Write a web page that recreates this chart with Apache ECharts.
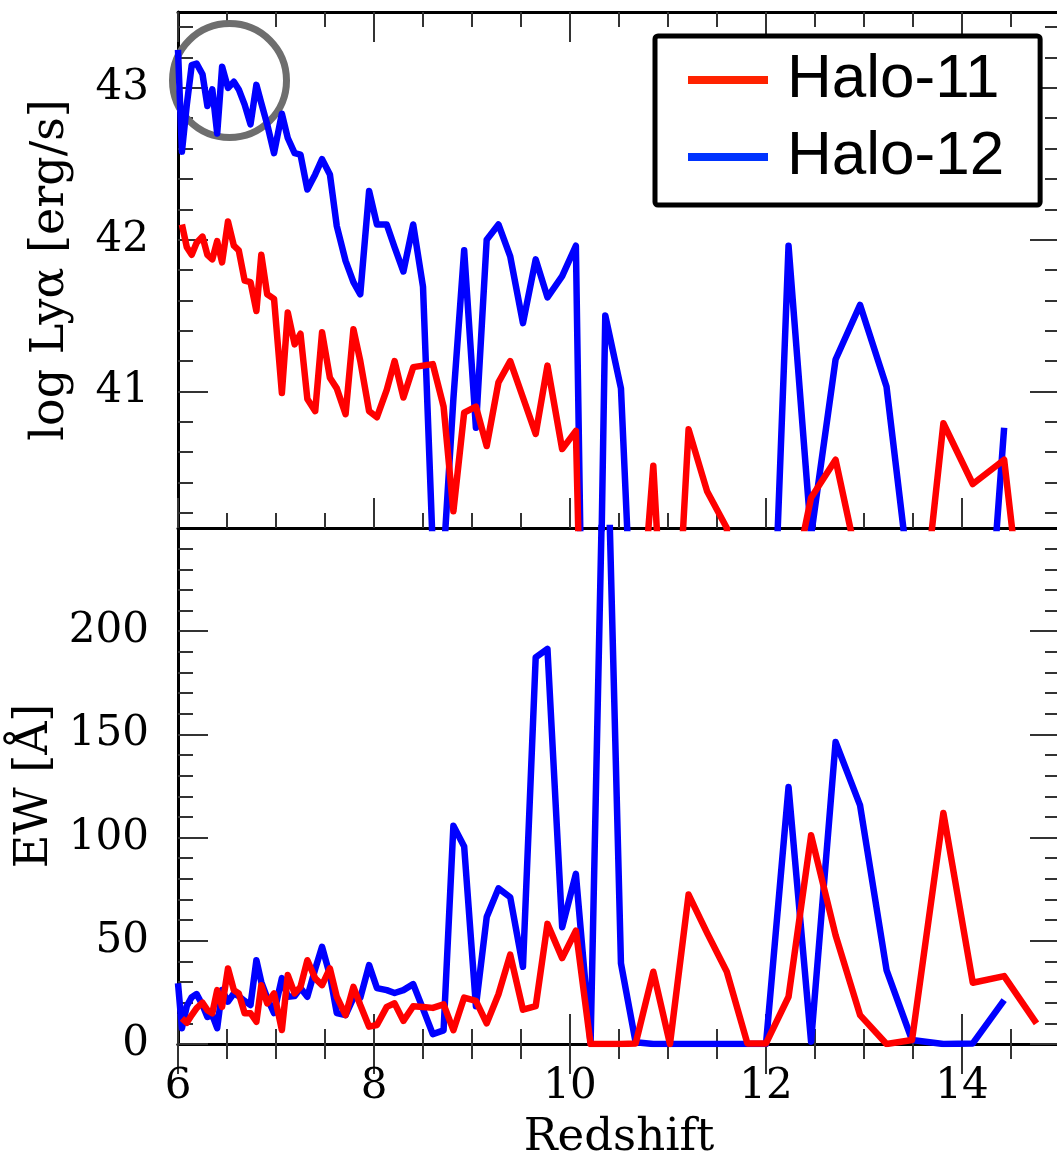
<!DOCTYPE html>
<html>
<head>
<meta charset="utf-8">
<script src="https://cdn.jsdelivr.net/npm/echarts@6/dist/echarts.min.js"></script>
<style>html,body{margin:0;padding:0;background:#fff}#c{width:1057px;height:1161px}</style>
</head>
<body>
<div id="c"></div>
<script>
// ---- data ----
const redshift = [6.00,6.04,6.09,6.14,6.19,6.25,6.30,6.35,6.40,6.45,6.51,6.57,6.62,6.68,6.74,6.80,6.85,6.91,6.98,7.06,
  7.12,7.19,7.25,7.32,7.40,7.47,7.55,7.62,7.71,7.79,7.86,7.95,8.03,8.13,8.21,8.30,8.40,8.50,8.60,8.71,
  8.81,8.92,9.04,9.15,9.27,9.39,9.52,9.65,9.77,9.92,10.06,10.21,10.36,10.52,10.67,10.85,11.02,11.21,11.40,11.60,
  11.81,12.00,12.23,12.46,12.71,12.96,13.23,13.49,13.81,14.11,14.43,14.76];
const lyaHalo11 = [null,42.10,41.95,41.90,41.98,42.02,41.90,41.87,41.99,41.85,42.12,41.96,41.93,41.73,41.72,41.53,41.90,41.64,41.61,40.99,
  41.52,41.31,41.38,40.95,40.87,41.39,41.09,41.02,40.85,41.41,41.20,40.87,40.83,41.01,41.20,40.96,41.16,41.17,41.18,40.90,
  40.21,40.86,40.90,40.64,41.06,41.20,40.96,40.72,41.17,40.62,40.74,36.7,36.8,37.5,39.03,40.51,38.53,40.75,40.34,40.10,
  37.0,37.0,39.58,40.30,40.55,39.8,37.5,38.88,40.79,40.39,40.55,38.7];
const lyaHalo12 = [43.25,42.58,42.89,43.15,43.16,43.09,42.88,42.99,42.70,43.14,43.00,43.04,42.99,42.89,42.76,43.02,42.90,42.76,42.57,42.83,
  42.67,42.57,42.56,42.33,42.43,42.53,42.43,42.09,41.86,41.72,41.64,42.32,42.10,42.10,41.95,41.79,42.10,41.69,39.96,39.90,
  40.95,41.93,40.76,42.00,42.10,41.89,41.45,41.87,41.62,41.76,41.96,35.7,41.50,41.02,38.84,37.0,37.0,37.0,37.0,37.0,
  37.0,38.07,41.96,40.05,41.21,41.57,41.03,39.62,38.5,37.96,40.76,null];
const ewHalo11 = [null,12.4,10.3,14.0,17.4,20.0,16.4,14.9,26.1,18.0,36.6,26.1,24.5,14.9,14.9,10.8,28.5,19.7,24.5,6.8,
  33.4,24.5,27.7,40.6,31.8,28.5,36.6,22.9,14.0,27.7,18.9,8.4,9.2,18.0,19.7,11.2,18.3,17.9,17.5,19.2,
  6.7,22.5,20.9,10.0,24.1,43.3,16.6,18.3,58.2,41.6,54.9,0,0,0,0.3,35.0,0,72.4,53.7,35.0,
  0.3,0.3,22.9,101.1,52.7,14.0,0,1.9,111.9,29.7,32.9,10.0];
const ewHalo12 = [29.4,7.6,18.4,22.7,24.2,18.9,13.1,14.0,7.7,26.1,20.5,24.5,23.2,20.8,18.9,40.6,30.0,22.3,15.0,31.9,
  22.9,23.2,27.1,22.9,36.3,47.1,33.4,15.0,14.0,22.3,22.3,38.2,27.1,26.1,24.7,26.1,29.0,17.0,4.8,6.6,
  105.7,95.7,18.3,61.5,75.4,71.1,37.4,187.3,191.4,56.6,82.4,0.5,337,39.1,0.8,0,0,0,0,0,
  0,0,124.5,1.1,146.3,115.6,35.8,1.9,0,0.3,21.3,null];

const xMajorTicks = [6,8,10,12,14];
const xMinorTicks = [6.5,7,7.5,8.5,9,9.5,10.5,11,11.5,12.5,13,13.5,14.5];
const lyaMajorTicks = [41,42,43];
const lyaMinorTicks = [40.2,40.4,40.6,40.8,41.2,41.4,41.6,41.8,42.2,42.4,42.6,42.8,43.2,43.4];
const ewMajorTicks = [0,50,100,150,200];
const ewMinorTicks = [10,20,30,40,60,70,80,90,110,120,130,140,160,170,180,190,210,220,230,240];

const seriesNames = ['Halo-11','Halo-12'];
const seriesColors = ['#ff0000','#0000ff'];

// ---- chart ----
const SERIF = 'DejaVu Serif';
const tickStyle = {color:'#333', width:2};
const frame = {show:true, lineStyle:{color:'#000', width:3}};

function xAxesFor(grid, withLabels) {
  const base = {type:'value', gridIndex:grid, min:6, max:15, splitLine:{show:false}};
  const lab = {show:withLabels, customValues:xMajorTicks, margin:22, fontFamily:SERIF, fontSize:42, color:'#000'};
  return [
    Object.assign({}, base, {position:'bottom', axisLine:frame,
      axisTick:{show:true, inside:true, length:30, customValues:xMajorTicks, lineStyle:tickStyle},
      axisLabel:lab,
      name: withLabels ? 'Redshift' : '', nameLocation:'middle', nameGap:72,
      nameTextStyle:{fontFamily:SERIF, fontSize:45, color:'#000'}}),
    Object.assign({}, base, {position:'bottom', axisLine:{show:false},
      axisTick:{show:true, inside:true, length:15, customValues:xMinorTicks, lineStyle:tickStyle},
      axisLabel:{show:false}}),
    Object.assign({}, base, {position:'top', axisLine:frame,
      axisTick:{show:true, inside:true, length:30, customValues:xMajorTicks, lineStyle:tickStyle},
      axisLabel:{show:false}}),
    Object.assign({}, base, {position:'top', axisLine:{show:false},
      axisTick:{show:true, inside:true, length:15, customValues:xMinorTicks, lineStyle:tickStyle},
      axisLabel:{show:false}})
  ];
}
function yAxesFor(grid, min, max, major, minor, name, gap) {
  const base = {type:'value', gridIndex:grid, min:min, max:max, splitLine:{show:false}};
  return [
    Object.assign({}, base, {position:'left', axisLine:frame,
      axisTick:{show:true, inside:true, length:30, customValues:major, lineStyle:tickStyle},
      axisLabel:{show:true, customValues:major, margin:29, fontFamily:SERIF, fontSize:42, color:'#000'},
      name:name, nameLocation:'middle', nameGap:gap,
      nameTextStyle:{fontFamily:SERIF, fontSize:46, color:'#000'}}),
    Object.assign({}, base, {position:'left', axisLine:{show:false},
      axisTick:{show:true, inside:true, length:15, customValues:minor, lineStyle:tickStyle},
      axisLabel:{show:false}}),
    Object.assign({}, base, {position:'right', axisLine:frame,
      axisTick:{show:true, inside:true, length:30, customValues:major, lineStyle:tickStyle},
      axisLabel:{show:false}}),
    Object.assign({}, base, {position:'right', axisLine:{show:false},
      axisTick:{show:true, inside:true, length:15, customValues:minor, lineStyle:tickStyle},
      axisLabel:{show:false}})
  ];
}
function pairs(xs, ys) {
  return xs.map((x, i) => [x, ys[i]]).filter(p => p[1] !== null);
}
function lineSeries(name, color, axisIdx, values) {
  return {name:name, type:'line', xAxisIndex:axisIdx, yAxisIndex:axisIdx,
    data:pairs(redshift, values), showSymbol:false, symbol:'none',
    lineStyle:{color:color, width:6.5, join:'round', cap:'butt'}, itemStyle:{color:color},
    clip:true, animation:false, z:2};
}

const chart = echarts.init(document.getElementById('c'), null, {renderer:'canvas'});
chart.setOption({
  animation:false,
  backgroundColor:'#fff',
  grid:[
    {left:178, right:-3, top:12, height:516, containLabel:false, outerBoundsMode:'none'},
    {left:178, right:-3, top:528, height:516, containLabel:false, outerBoundsMode:'none'}
  ],
  xAxis: xAxesFor(0, false).concat(xAxesFor(1, true)),
  yAxis: yAxesFor(0, 40.1, 43.5, lyaMajorTicks, lyaMinorTicks, 'log Lyα [erg/s]', 104)
    .concat(yAxesFor(1, 0, 250, ewMajorTicks, ewMinorTicks, 'EW [Å]', 118)),
  legend:{
    show:true, orient:'vertical', left:655, top:36,
    data:[{name:seriesNames[0], itemStyle:{color:'#ff2200'}}, {name:seriesNames[1], itemStyle:{color:'#0033ff'}}],
    icon:'rect', itemWidth:80, itemHeight:8, itemGap:7,
    padding:[9,36,13,33],
    borderColor:'#000', borderWidth:5, borderRadius:3, backgroundColor:'#fff',
    textStyle:{fontFamily:'Liberation Sans', fontSize:62, color:'#000', lineHeight:70, padding:[0,0,0,14]},
    selectedMode:false, z:10
  },
  graphic:[{type:'circle', shape:{cx:229.5, cy:80.5, r:57},
    style:{fill:'none', stroke:'#6e6e6e', lineWidth:7}, z:1}],
  series:[
    lineSeries(seriesNames[1], seriesColors[1], 0, lyaHalo12),
    lineSeries(seriesNames[0], seriesColors[0], 0, lyaHalo11),
    lineSeries(seriesNames[1], seriesColors[1], 4, ewHalo12),
    lineSeries(seriesNames[0], seriesColors[0], 4, ewHalo11)
  ]
});
</script>
</body>
</html>
